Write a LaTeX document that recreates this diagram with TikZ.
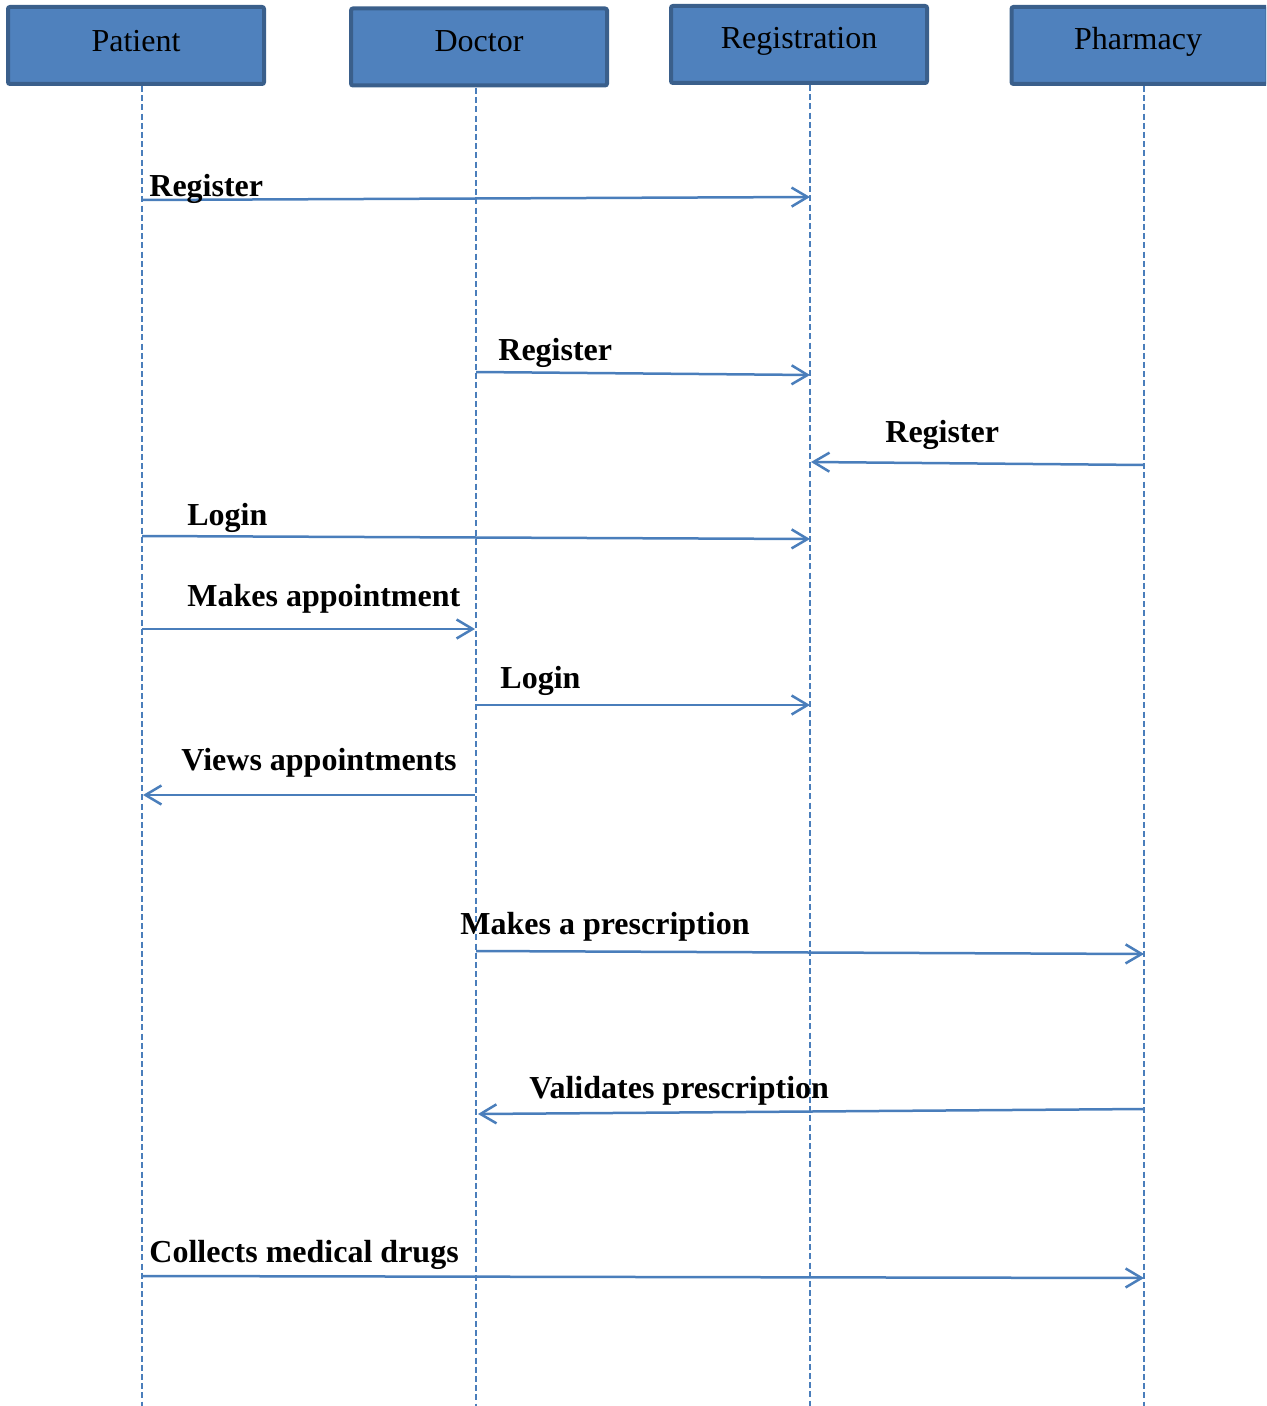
\documentclass[tikz,border=0pt]{standalone}
\usepackage{fontspec}
\setmainfont{Liberation Serif}
\usetikzlibrary{arrows.meta}
\definecolor{boxfill}{HTML}{4F81BD}
\definecolor{boxline}{HTML}{3A5F8B}
\definecolor{msgline}{HTML}{4A7EBB}
\begin{document}
\begin{tikzpicture}[x=0.5pt,y=-0.5pt,
  actor/.style={draw=boxline,fill=boxfill,line width=2pt,rounded corners=1pt,
    minimum width=128pt,minimum height=38.5pt,inner sep=0pt,
    font=\fontsize{16}{19}\selectfont},
  lifeline/.style={draw=msgline,line width=0.75pt,dash pattern=on 3pt off 1.6pt},
  msg/.style={draw=msgline,line width=1.25pt,-{Straight Barb[length=8pt,width=9.5pt,line width=1.25pt]}},
  lbl/.style={anchor=base west,inner sep=0pt,font=\fontsize{16}{19}\selectfont\bfseries}]
\useasboundingbox (0,0) rectangle (1266,1406);
\clip (0,0) rectangle (1266,1406);

% participant boxes
\node[actor] (pat) at (136,45.5) {};
\node[actor] (doc) at (479,47) {};
\node[actor] (reg) at (799,44.5) {};
\node[actor] (pha) at (1139.5,45.5) {};
\node[font=\fontsize{16}{19}\selectfont] (patT) at (136,41) {Patient};
\node[font=\fontsize{16}{19}\selectfont] (docT) at (479,41) {Doctor};
\node[font=\fontsize{16}{19}\selectfont] (regT) at (799,41) {Registration};
\node[font=\fontsize{16}{19}\selectfont] (phaT) at (1138,42) {Pharmacy};

% lifeline ends
\coordinate (patE) at (142,1406);
\coordinate (docE) at (476,1406);
\coordinate (regE) at (810,1406);
\coordinate (phaE) at (1144,1406);
\coordinate (patS) at (142,86);
\coordinate (docS) at (476,88);
\coordinate (regS) at (810,85);
\coordinate (phaS) at (1144,86);
\draw[lifeline] (patS) -- (patE);
\draw[lifeline] (docS) -- (docE);
\draw[lifeline] (regS) -- (regE);
\draw[lifeline] (phaS) -- (phaE);

% message end points
\coordinate (a1) at (142,200);  \coordinate (b1) at (810,197);
\coordinate (a2) at (476,372);  \coordinate (b2) at (810,375);
\coordinate (a3) at (1144,465); \coordinate (b3) at (811,462);
\coordinate (a4) at (142,536);  \coordinate (b4) at (810,539);
\coordinate (a5) at (142,629);  \coordinate (b5) at (475,629);
\coordinate (a6) at (476,705);  \coordinate (b6) at (810,705);
\coordinate (a7) at (475,795);  \coordinate (b7) at (143,795);
\coordinate (a8) at (476,951);  \coordinate (b8) at (1144,954);
\coordinate (a9) at (1144,1109);\coordinate (b9) at (478,1114);
\coordinate (a10) at (142,1276);\coordinate (b10) at (1144,1278);

\draw[msg] (a1) -- (b1);
\draw[msg] (a2) -- (b2);
\draw[msg] (a3) -- (b3);
\draw[msg] (a4) -- (b4);
\draw[msg] (a5) -- (b5);
\draw[msg] (a6) -- (b6);
\draw[msg] (a7) -- (b7);
\draw[msg] (a8) -- (b8);
\draw[msg] (a9) -- (b9);
\draw[msg] (a10) -- (b10);

% message labels
\node[lbl] (l1) at (149,197) {Register};
\node[lbl] (l2) at (498,361) {Register};
\node[lbl] (l3) at (885,443) {Register};
\node[lbl] (l4) at (187,525) {Login};
\node[lbl] (l5) at (187,606) {Makes appointment};
\node[lbl] (l6) at (500,688) {Login};
\node[lbl] (l7) at (181,770) {Views appointments};
\node[lbl] (l8) at (460,934) {Makes a prescription};
\node[lbl] (l9) at (529,1098) {Validates prescription};
\node[lbl] (l10) at (149,1262) {Collects medical drugs};
\end{tikzpicture}
\end{document}
